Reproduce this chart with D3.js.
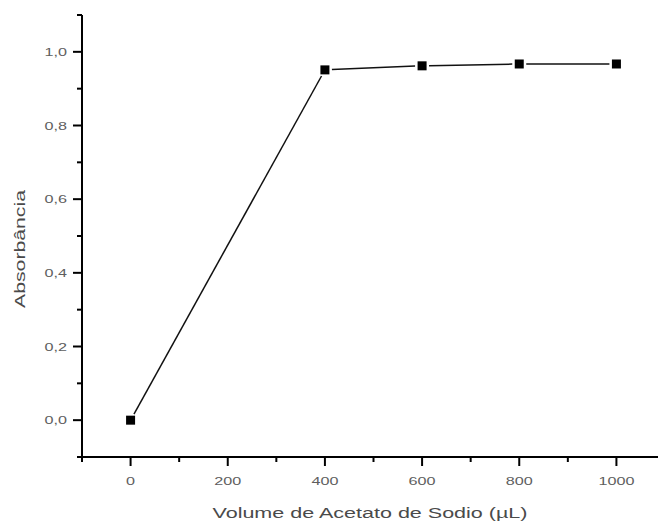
<!DOCTYPE html>
<html>
<head>
<meta charset="utf-8">
<script src="https://cdn.jsdelivr.net/npm/d3@7"></script>
<style>
  body { margin: 0; background: #fff; }
  svg { display: block; font-family: "Liberation Sans", Arial, sans-serif; }
</style>
</head>
<body>
<script>
// data
const volume = [0, 400, 600, 800, 1000];
const absorb = [0.0, 0.951, 0.962, 0.967, 0.967];
const xMajor = [0, 200, 400, 600, 800, 1000];
const xMinor = [-100, 100, 300, 500, 700, 900, 1100];
const yMajor = [0, 0.2, 0.4, 0.6, 0.8, 1.0];
const yMinor = [-0.1, 0.1, 0.3, 0.5, 0.7, 0.9, 1.1];

const W = 658, H = 523;
const stretch = 1.47; // text in the picture is wide

var svg = d3.select("body").append("svg")
    .attr("width", W)
    .attr("height", H);

const x = d3.scaleLinear().domain([-100, 1100]).range([82, 665]);
const y = d3.scaleLinear().domain([-0.1, 1.1]).range([457, 15]);

const fmt = d => d.toFixed(1).replace(".", ",");

// x axis
const gx = svg.append("g").attr("transform", `translate(0,${y(-0.1)})`);
gx.append("line").attr("x1", x(-100)).attr("x2", x(1100))
    .attr("stroke", "#000").attr("stroke-width", 2);
gx.selectAll(".maj").data(xMajor).enter().append("line")
    .attr("x1", d => x(d)).attr("x2", d => x(d))
    .attr("y1", 0).attr("y2", 9)
    .attr("stroke", "#000").attr("stroke-width", 2);
gx.selectAll(".min").data(xMinor).enter().append("line")
    .attr("x1", d => x(d)).attr("x2", d => x(d))
    .attr("y1", 0).attr("y2", 5)
    .attr("stroke", "#000").attr("stroke-width", 2);
gx.selectAll("text").data(xMajor).enter().append("text")
    .attr("class", "tl")
    .attr("x", d => x(d)).attr("y", 28)
    .attr("text-anchor", "middle")
    .attr("font-size", 11)
    .attr("fill", "#5e5e5e")
    .text(d => d);

// y axis
const gy = svg.append("g").attr("transform", `translate(${x(-100)},0)`);
gy.append("line").attr("y1", y(-0.1)).attr("y2", y(1.1))
    .attr("stroke", "#000").attr("stroke-width", 2);
gy.selectAll(".maj").data(yMajor).enter().append("line")
    .attr("y1", d => y(d)).attr("y2", d => y(d))
    .attr("x1", 0).attr("x2", -9)
    .attr("stroke", "#000").attr("stroke-width", 2);
gy.selectAll(".min").data(yMinor).enter().append("line")
    .attr("y1", d => y(d)).attr("y2", d => y(d))
    .attr("x1", 0).attr("x2", -5)
    .attr("stroke", "#000").attr("stroke-width", 2);
gy.selectAll("text").data(yMajor).enter().append("text")
    .attr("class", "tl")
    .attr("x", -15).attr("y", d => y(d) + 4)
    .attr("text-anchor", "end")
    .attr("font-size", 11)
    .attr("fill", "#5e5e5e")
    .text(fmt);

// widen tick labels like the picture
svg.selectAll(".tl").each(function() {
    const w = this.getComputedTextLength();
    d3.select(this).attr("textLength", w * stretch).attr("lengthAdjust", "spacingAndGlyphs");
});

// titles
svg.append("text")
    .attr("x", 370).attr("y", 518)
    .attr("text-anchor", "middle")
    .attr("font-size", 14)
    .attr("fill", "#4a4a4a")
    .attr("textLength", 315).attr("lengthAdjust", "spacingAndGlyphs")
    .text("Volume de Acetato de Sodio (\u00b5L)");

svg.append("text")
    .attr("transform", "translate(25,249) rotate(-90)")
    .attr("text-anchor", "middle")
    .attr("font-size", 14)
    .attr("fill", "#4a4a4a")
    .attr("textLength", 118).attr("lengthAdjust", "spacingAndGlyphs")
    .text("Absorbância");

// line segments with small gaps at the markers
const pts = volume.map((v, i) => [x(v), y(absorb[i])]);
const gap = 7;
for (let i = 0; i < pts.length - 1; i++) {
    const [x1, y1] = pts[i], [x2, y2] = pts[i + 1];
    const len = Math.hypot(x2 - x1, y2 - y1);
    const ux = (x2 - x1) / len, uy = (y2 - y1) / len;
    svg.append("line")
        .attr("x1", x1 + ux * gap).attr("y1", y1 + uy * gap)
        .attr("x2", x2 - ux * gap).attr("y2", y2 - uy * gap)
        .attr("stroke", "#111").attr("stroke-width", 1.5);
}

// square markers
svg.selectAll("rect.pt").data(volume).enter().append("rect")
    .attr("class", "pt")
    .attr("x", (d, i) => x(d) - 4.5)
    .attr("y", (d, i) => y(absorb[i]) - 4.5)
    .attr("width", 9).attr("height", 9)
    .attr("fill", "#000");
</script>
</body>
</html>
